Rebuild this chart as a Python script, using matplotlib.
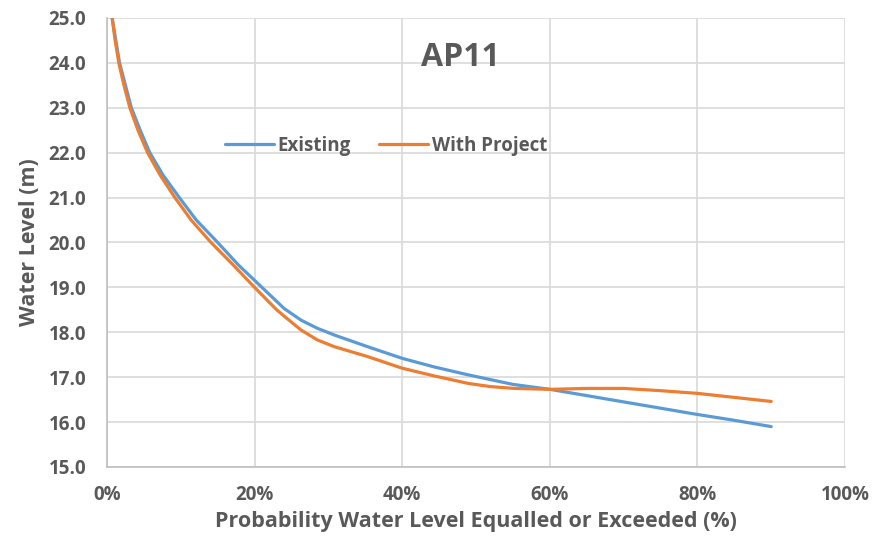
import matplotlib
matplotlib.use("Agg")
import matplotlib.pyplot as plt
from matplotlib.ticker import FuncFormatter, MultipleLocator

# values (exceedance % -> water level m)
exceed_existing = [0.7, 1.2, 1.7, 2.5, 3.3, 4.5, 5.8, 7.6, 9.8, 12.1, 15.0, 17.8, 21.0, 24.0,
                   26.3, 28.5, 30.8, 35.3, 40.0, 44.3, 49.0, 55.0, 60.0, 65.0, 70.0,
                   75.0, 80.0, 85.0, 90.0]
level_existing = [25.0, 24.5, 24.0, 23.5, 23.0, 22.5, 22.0, 21.5, 21.0, 20.5, 20.0, 19.5, 19.0,
                  18.53, 18.27, 18.09, 17.94, 17.68, 17.42, 17.23, 17.05, 16.84, 16.73, 16.59,
                  16.45, 16.31, 16.17, 16.04, 15.90]

exceed_project = [0.7, 1.1, 1.6, 2.3, 3.1, 4.2, 5.5, 7.2, 9.2, 11.4, 14.1, 17.1, 20.0, 23.0,
                  24.3, 26.3, 28.5, 30.8, 35.3, 40.0, 44.3, 49.0, 52.0, 55.2, 60.0,
                  65.0, 70.0, 75.0, 80.0, 85.0, 90.0]
level_project = [25.0, 24.5, 24.0, 23.5, 23.0, 22.5, 22.0, 21.5, 21.0, 20.5, 20.0, 19.5, 19.0,
                 18.5, 18.32, 18.05, 17.83, 17.68, 17.46, 17.20, 17.03, 16.86, 16.79, 16.75,
                 16.73, 16.75, 16.75, 16.70, 16.64, 16.55, 16.46]

series_names = ["Existing", "With Project"]
series_colors = ["#5B9BD5", "#ED7D31"]
title = "AP11"

plt.rcParams["font.family"] = ["Open Sans", "DejaVu Sans"]
plt.rcParams["font.weight"] = "bold"
text_color = "#595959"

fig = plt.figure(figsize=(8.72, 5.44), dpi=100)
ax = fig.add_axes([107 / 872, 1 - 467 / 544, (845 - 107) / 872, (467 - 18) / 544])

ax.plot(exceed_existing, level_existing, color=series_colors[0], lw=2.3,
        label=series_names[0], solid_capstyle="round", solid_joinstyle="round")
ax.plot(exceed_project, level_project, color=series_colors[1], lw=2.3,
        label=series_names[1], solid_capstyle="round", solid_joinstyle="round")

ax.set_xlim(0, 100)
ax.set_ylim(15, 25)
ax.xaxis.set_major_locator(MultipleLocator(20))
ax.yaxis.set_major_locator(MultipleLocator(1))
ax.xaxis.set_major_formatter(FuncFormatter(lambda v, _: f"{v:.0f}%"))
ax.yaxis.set_major_formatter(FuncFormatter(lambda v, _: f"{v:.1f}"))
ax.tick_params(axis="x", length=0, labelsize=13.5, labelcolor=text_color, pad=13)
ax.tick_params(axis="y", length=0, labelsize=13.5, labelcolor=text_color, pad=15)
for lab in ax.get_xticklabels() + ax.get_yticklabels():
    lab.set_fontweight("bold")

ax.grid(True, color="#d9d9d9", lw=1.2)
ax.set_axisbelow(True)
for side in ["top", "right"]:
    ax.spines[side].set_visible(False)
for side in ["left", "bottom"]:
    ax.spines[side].set_color("#bfbfbf")
    ax.spines[side].set_linewidth(1.2)

ax.set_xlabel("Probability Water Level Equalled or Exceeded (%)", fontsize=15.5,
              color=text_color, fontweight="bold", labelpad=4)
ax.set_ylabel("Water Level (m)", fontsize=15.5, color=text_color,
              fontweight="bold", labelpad=6)

fig.text(460 / 872, 1 - 58 / 544, title, fontsize=23, color=text_color,
         fontweight="bold", ha="center", va="center")

leg = ax.legend(loc="center", bbox_to_anchor=(386 / 872, 1 - 146 / 544),
                bbox_transform=fig.transFigure, ncol=2, frameon=False,
                fontsize=13.5, handlelength=2.6, handletextpad=0.2, columnspacing=1.5)
for t in leg.get_texts():
    t.set_color(text_color)
    t.set_fontweight("bold")

fig.savefig("out.png", dpi=100)
